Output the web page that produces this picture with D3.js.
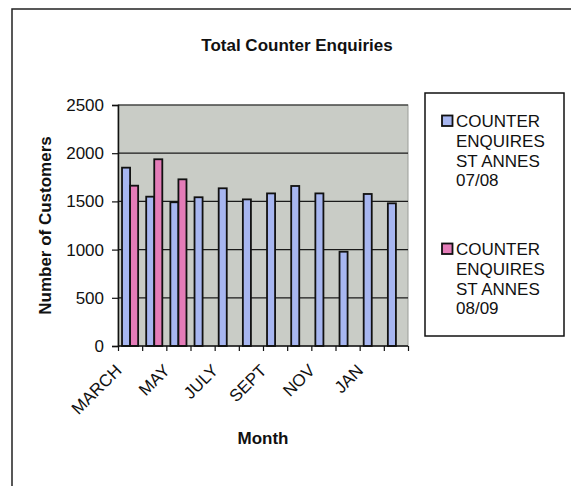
<!DOCTYPE html>
<html>
<head>
<meta charset="utf-8">
<script src="https://d3js.org/d3.v7.min.js"></script>
<style>
body { margin: 0; background: #fff; }
svg { display: block; font-family: "Liberation Sans", Arial, Helvetica, sans-serif; }
</style>
</head>
<body>
<svg id="chart" width="571" height="486"></svg>
<script>
// data
var months = ['MARCH', 'APRIL', 'MAY', 'JUNE', 'JULY', 'AUG', 'SEPT', 'OCT', 'NOV', 'DEC', 'JAN', 'FEB'];
var shownLabels = ['MARCH', 'MAY', 'JULY', 'SEPT', 'NOV', 'JAN'];
var stAnnes0708 = [1850, 1549, 1491, 1543, 1636, 1521, 1583, 1660, 1583, 978, 1577, 1480];
var stAnnes0809 = [1663, 1937, 1729, null, null, null, null, null, null, null, null, null];
var legendLines = [['COUNTER', 'ENQUIRES', 'ST ANNES', '07/08'], ['COUNTER', 'ENQUIRES', 'ST ANNES', '08/09']];
var yTicks = [0, 500, 1000, 1500, 2000, 2500];

var svg = d3.select('#chart');
var plot = {left: 118, right: 408, top: 105, bottom: 346};
var colors = ['#a7b6f0', '#e47cb8'];

//outer chart border (only top and left edges are in frame)
svg.append('rect').attr('x', 12).attr('y', 9).attr('width', 700).attr('height', 700)
	.attr('fill', 'none').attr('stroke', '#222').attr('stroke-width', 1.5);

var x = d3.scaleBand().domain(months).range([plot.left, plot.right]).padding(0);
var xs = d3.scaleBand().domain([0, 1]).range([x.bandwidth() / 6, x.bandwidth() * 5 / 6]).padding(0);
var y = d3.scaleLinear().domain([0, 2500]).range([plot.bottom, plot.top]);
var xi = d3.scaleLinear().domain([0, months.length]).range([plot.left, plot.right]);

//plot area
svg.append('rect').attr('x', plot.left).attr('y', plot.top)
	.attr('width', plot.right - plot.left).attr('height', plot.bottom - plot.top)
	.attr('fill', '#c9ccc6').attr('stroke', '#9a9d98').attr('stroke-width', 1);

//gridlines
svg.append('g').selectAll('line').data(yTicks.slice(1)).join('line')
	.attr('x1', plot.left).attr('x2', plot.right)
	.attr('y1', function(d) { return y(d); }).attr('y2', function(d) { return y(d); })
	.attr('stroke', '#1a1a1a').attr('stroke-width', 1.2);

//bars
var series = [stAnnes0708, stAnnes0809];
series.forEach(function(vals, s) {
	svg.append('g').selectAll('rect')
		.data(months.map(function(m, i) { return {m: m, v: vals[i]}; }).filter(function(d) { return d.v != null; }))
		.join('rect')
		.attr('x', function(d) { return x(d.m) + xs(s); })
		.attr('y', function(d) { return y(d.v); })
		.attr('width', xs.bandwidth())
		.attr('height', function(d) { return y(0) - y(d.v); })
		.attr('fill', colors[s]).attr('stroke', '#111').attr('stroke-width', 1.8);
});

//axes
var yAxis = d3.axisLeft(y).tickValues(yTicks).tickSize(6).tickPadding(8).tickFormat(d3.format('d'));
var gy = svg.append('g').attr('transform', 'translate(' + plot.left + ',0)').call(yAxis);
gy.select('.domain').attr('stroke', '#111').attr('stroke-width', 1.5);
gy.selectAll('.tick line').attr('stroke', '#111').attr('stroke-width', 1.2);
gy.selectAll('text').attr('font-size', 17).attr('fill', '#111');

var xAxis = d3.axisBottom(xi).tickValues(d3.range(months.length + 1)).tickSize(5).tickFormat('');
var gx = svg.append('g').attr('transform', 'translate(0,' + plot.bottom + ')').call(xAxis);
gx.select('.domain').attr('stroke', '#111').attr('stroke-width', 1.5).attr('d', 'M' + plot.left + ',0H' + plot.right);
gx.selectAll('.tick line').attr('stroke', '#111').attr('stroke-width', 1.2);

//rotated month labels
svg.append('g').selectAll('text').data(shownLabels).join('text')
	.attr('transform', function(d) { return 'translate(' + (x(d) + x.bandwidth() / 2 - 16) + ',363) rotate(-45)'; })
	.attr('text-anchor', 'end').attr('dy', '0.71em')
	.attr('font-size', 17).attr('fill', '#111')
	.text(function(d) { return d; });

//titles
svg.append('text').attr('x', 297).attr('y', 51).attr('text-anchor', 'middle')
	.attr('font-size', 17).attr('font-weight', 'bold').attr('fill', '#111').text('Total Counter Enquiries');
svg.append('text').attr('x', (plot.left + plot.right) / 2).attr('y', 444).attr('text-anchor', 'middle')
	.attr('font-size', 17).attr('font-weight', 'bold').attr('fill', '#111').text('Month');
svg.append('text').attr('transform', 'translate(51,' + ((plot.top + plot.bottom) / 2) + ') rotate(-90)')
	.attr('text-anchor', 'middle')
	.attr('font-size', 17).attr('font-weight', 'bold').attr('fill', '#111').text('Number of Customers');

//legend
var legend = svg.append('g');
legend.append('rect').attr('x', 425).attr('y', 93).attr('width', 139).attr('height', 243)
	.attr('fill', '#fff').attr('stroke', '#111').attr('stroke-width', 1.5);
var itemTop = [127, 255];
legendLines.forEach(function(lines, s) {
	legend.append('rect').attr('x', 442).attr('y', itemTop[s] - 11.5).attr('width', 10.5).attr('height', 10.5)
		.attr('fill', colors[s]).attr('stroke', '#111').attr('stroke-width', 1.8);
	legend.append('text').attr('font-size', 17).attr('fill', '#111')
		.selectAll('tspan').data(lines).join('tspan')
		.attr('x', 456).attr('y', function(d, i) { return itemTop[s] + i * 19.8; })
		.text(function(d) { return d; });
});
</script>
</body>
</html>
